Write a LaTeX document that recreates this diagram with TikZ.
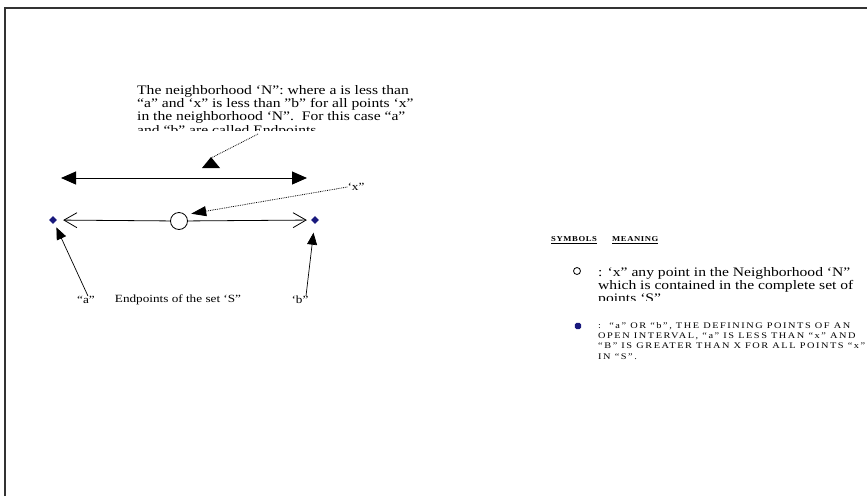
\documentclass[tikz,border=0pt]{standalone}
\usepackage{fontspec}
\setmainfont[FakeStretch=1.2]{Liberation Serif}
\newfontfamily\capsfont[FakeStretch=1.2,LetterSpace=18]{Liberation Serif}
\newfontfamily\headfont[FakeStretch=1.15,LetterSpace=8]{Liberation Serif}
\usetikzlibrary{arrows.meta,shapes.geometric}
\definecolor{navyblue}{RGB}{25,25,125}
\begin{document}
\begin{tikzpicture}[x=1pt,y=-1pt,
  txt/.style={inner sep=0pt, font=\fontsize{13}{13.3}\selectfont, align=left},
  lbl/.style={inner sep=0pt, font=\fontsize{11}{13}\selectfont},
  capstxt/.style={inner sep=0pt, font=\capsfont\fontsize{8.6}{10.4}\selectfont, align=left},
  headtxt/.style={inner sep=0pt, anchor=west, font=\headfont\bfseries\fontsize{7.5}{8}\selectfont},
  endpt/.style={diamond, fill=navyblue, minimum size=8pt, inner sep=0pt},
  pointx/.style={circle, draw, fill=white, minimum size=17pt, inner sep=0pt, line width=0.8pt},
  dots/.style={densely dotted, line width=0.8pt},
  bighead/.style={{Triangle[length=15pt,width=13pt]}-{Triangle[length=15pt,width=13pt]}, line width=1pt},
  pointer/.style={-{Triangle[length=12pt,width=10pt]}, line width=0.7pt}]
\useasboundingbox (0,0) rectangle (867,496);
% frame
\draw[line width=1.6pt, black!80] (5,496) -- (5,8) -- (867,8);

% description text (clipped like its box)
\begin{scope}
\clip (130,80) rectangle (440,130);
\node[txt, anchor=north west] (desc) at (137,85)
 {The neighborhood `N'': where a is less than\\
  ``a'' and `x'' is less than "b'' for all points `x''\\
  in the neighborhood `N''.\ \ For this case ``a''\\
  and ``b'' are called Endpoints};
\end{scope}
\coordinate (descpt) at (258,134);
\fill (202,168) -- (220,168) -- (211,157) -- cycle;
\coordinate (tri) at (211,158);
\draw[dots] (descpt) -- (tri);

% neighbourhood double arrow
\coordinate (NL) at (61,178);
\coordinate (NR) at (307,178);
\draw[bighead] (NL) -- (NR);

% line with point x and endpoints
\node[endpt] (da) at (53,220) {};
\node[endpt] (db) at (315,220) {};
\node[pointx] (x) at (179,221) {};
\draw[-{Straight Barb[length=13pt,width=15pt]}, line width=0.8pt, shorten >=6pt] (x) -- (da);
\draw[-{Straight Barb[length=13pt,width=15pt]}, line width=0.8pt, shorten >=4pt] (x) -- (db);

% label x
\node[lbl] (xl) at (356,187) {`x''};
\draw[dots, -{Triangle[length=15pt,width=10pt]}, shorten >=6pt] (xl.west) -- (x.north east);

% endpoint labels
\node[lbl] (la) at (86,300) {``a''};
\node[lbl] (lend) at (178,300) {Endpoints of the set `S''};
\node[lbl] (lb) at (300,300) {`b''};
\draw[pointer, shorten >=5pt] ([xshift=2pt]la.north) -- (da);
\draw[pointer, shorten >=9pt] ([xshift=6pt]lb.north) -- (db);

% legend
\node[headtxt] (hs) at (551,240) {\underline{SYMBOLS}};
\node[headtxt] (hm) at (612,240) {\underline{MEANING}};

\node[circle, draw, minimum size=7pt, inner sep=0pt, line width=0.8pt] (sx) at (577,271) {};
\begin{scope}
\clip (590,258) rectangle (867,300);
\node[txt, anchor=north west] (mx) at (598,267)
 {: `x'' any point in the Neighborhood `N''\\
  which is contained in the complete set of\\
  points `S''};
\end{scope}

\node[regular polygon, regular polygon sides=8, fill=navyblue, minimum size=7pt, inner sep=0pt] (sd) at (578,326) {};
\node[capstxt, anchor=north west] (md) at (598,322)
 {:\ \ “a” OR “b”, THE DEFINING POINTS OF AN\\
  OPEN INTERVAL, “a” IS LESS THAN “x” AND\\
  “B” IS GREATER THAN X FOR ALL POINTS “x”\\
  IN “S”.};
\end{tikzpicture}
\end{document}
